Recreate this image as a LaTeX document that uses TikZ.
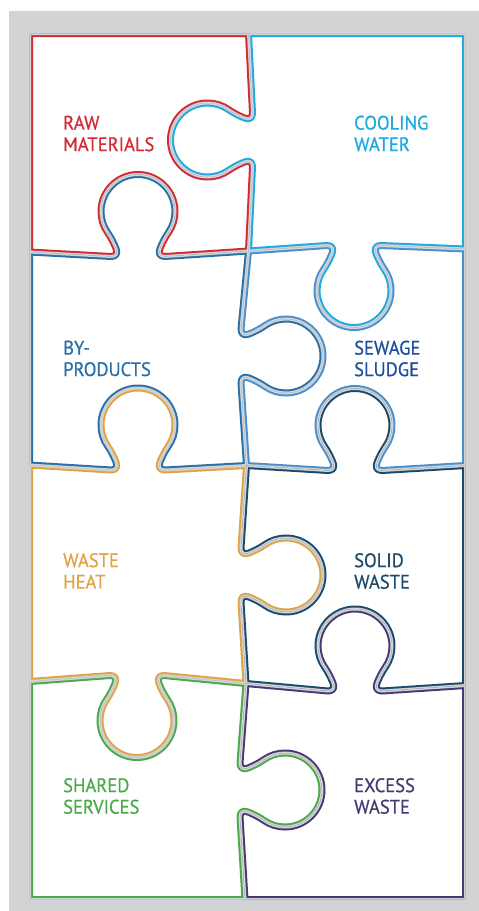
\documentclass[tikz,border=0pt]{standalone}
\usepackage{fontspec}
\newfontfamily\lab{PT Sans}[FakeStretch=0.95,FakeBold=0.6]
\definecolor{bg}{HTML}{D1D3D4}
\definecolor{cred}{HTML}{D42A34}
\definecolor{ccyan}{HTML}{1FA9E1}
\definecolor{cblue}{HTML}{2A6FA6}
\definecolor{csew}{HTML}{4A90D0}
\definecolor{csewt}{HTML}{1F4E9E}
\definecolor{corange}{HTML}{E0A448}
\definecolor{cnavy}{HTML}{1B4A6C}
\definecolor{cgreen}{HTML}{4DA84A}
\definecolor{cpurple}{HTML}{463A72}
% point of a knob: base (#1), edge dir (#2), out dir (#3), u=#4, v=#5
\newcommand\KP[5]{#1+(#4)*(#2)+(#5)*(#3)}
% knob: base centre (#1,#2), traversal direction (#3,#4), knob direction (#5,#6)
\newcommand\kn[6]{%
 -- ({\KP{#1}{#3}{#5}{-27}{0}},{\KP{#2}{#4}{#6}{-27}{0}})
 .. controls ({\KP{#1}{#3}{#5}{-22}{0}},{\KP{#2}{#4}{#6}{-22}{0}})
 and ({\KP{#1}{#3}{#5}{-20}{3}},{\KP{#2}{#4}{#6}{-20}{3}})
 .. ({\KP{#1}{#3}{#5}{-22}{8}},{\KP{#2}{#4}{#6}{-22}{8}})
 .. controls ({\KP{#1}{#3}{#5}{-23.5}{11.7}},{\KP{#2}{#4}{#6}{-23.5}{11.7}})
 and ({\KP{#1}{#3}{#5}{-26.3}{18.1}},{\KP{#2}{#4}{#6}{-26.3}{18.1}})
 .. ({\KP{#1}{#3}{#5}{-30.3}{23.8}},{\KP{#2}{#4}{#6}{-30.3}{23.8}})
 .. controls ({\KP{#1}{#3}{#5}{-34.7}{30}},{\KP{#2}{#4}{#6}{-34.7}{30}})
 and ({\KP{#1}{#3}{#5}{-37}{37.4}},{\KP{#2}{#4}{#6}{-37}{37.4}})
 .. ({\KP{#1}{#3}{#5}{-37}{45}},{\KP{#2}{#4}{#6}{-37}{45}})
 .. controls ({\KP{#1}{#3}{#5}{-37}{65.4}},{\KP{#2}{#4}{#6}{-37}{65.4}})
 and ({\KP{#1}{#3}{#5}{-20.4}{82}},{\KP{#2}{#4}{#6}{-20.4}{82}})
 .. ({\KP{#1}{#3}{#5}{0}{82}},{\KP{#2}{#4}{#6}{0}{82}})
 .. controls ({\KP{#1}{#3}{#5}{20.4}{82}},{\KP{#2}{#4}{#6}{20.4}{82}})
 and ({\KP{#1}{#3}{#5}{37}{65.4}},{\KP{#2}{#4}{#6}{37}{65.4}})
 .. ({\KP{#1}{#3}{#5}{37}{45}},{\KP{#2}{#4}{#6}{37}{45}})
 .. controls ({\KP{#1}{#3}{#5}{37}{37.4}},{\KP{#2}{#4}{#6}{37}{37.4}})
 and ({\KP{#1}{#3}{#5}{34.7}{30}},{\KP{#2}{#4}{#6}{34.7}{30}})
 .. ({\KP{#1}{#3}{#5}{30.3}{23.8}},{\KP{#2}{#4}{#6}{30.3}{23.8}})
 .. controls ({\KP{#1}{#3}{#5}{26.3}{18.1}},{\KP{#2}{#4}{#6}{26.3}{18.1}})
 and ({\KP{#1}{#3}{#5}{23.5}{11.7}},{\KP{#2}{#4}{#6}{23.5}{11.7}})
 .. ({\KP{#1}{#3}{#5}{22}{8}},{\KP{#2}{#4}{#6}{22}{8}})
 .. controls ({\KP{#1}{#3}{#5}{20}{3}},{\KP{#2}{#4}{#6}{20}{3}})
 and ({\KP{#1}{#3}{#5}{22}{0}},{\KP{#2}{#4}{#6}{22}{0}})
 .. ({\KP{#1}{#3}{#5}{27}{0}},{\KP{#2}{#4}{#6}{27}{0}})}
\def\pRed{(29.5,33.5) -- (248.5,33.5) \kn{252.5}{140}{0}{1}{-1}{0} -- (248.5,251) \kn{138}{256.5}{-1}{0}{0}{-1} -- (29.5,252) -- cycle}
\def\pCyan{(248.5,33.5) -- (465.5,33.5) -- (465.5,249) \kn{354}{245.5}{-1}{0}{0}{1} -- (248.5,251) \kn{252.5}{140}{0}{-1}{-1}{0} -- cycle}
\def\pBy{(29.5,252) \kn{138}{256.5}{1}{0}{0}{-1} -- (248.5,251) \kn{241}{356}{0}{1}{1}{0} -- (246.5,465.5) \kn{138}{470}{-1}{0}{0}{-1} -- (29.5,465) -- cycle}
\def\pSew{(248.5,251) \kn{354}{245.5}{1}{0}{0}{1} -- (465.5,249) -- (465.5,465.5) \kn{355}{470.5}{-1}{0}{0}{-1} -- (246.5,465.5) \kn{241}{356}{0}{-1}{1}{0} -- cycle}
\def\pHeat{(29.5,465) \kn{138}{470}{1}{0}{0}{-1} -- (246.5,465.5) \kn{241}{575}{0}{1}{1}{0} -- (246,683.5) \kn{137}{675.5}{-1}{0}{0}{1} -- (29.5,681.5) -- cycle}
\def\pSolid{(246.5,465.5) \kn{355}{470.5}{1}{0}{0}{-1} -- (465.5,465.5) -- (465.5,685.5) \kn{355}{691}{-1}{0}{0}{-1} -- (246,683.5) \kn{241}{575}{0}{-1}{1}{0} -- cycle}
\def\pShared{(29.5,681.5) \kn{137}{675.5}{1}{0}{0}{1} -- (246,683.5) \kn{240}{790}{0}{1}{1}{0} -- (245,899.5) -- (29.5,899.5) -- cycle}
\def\pExcess{(246,683.5) \kn{355}{691}{1}{0}{0}{-1} -- (465.5,685.5) -- (465.5,899.5) -- (245,899.5) \kn{240}{790}{0}{-1}{1}{0} -- cycle}
\newcommand\piece[2]{\begin{scope}
 \clip #1;
 \fill[white] #1;
 \draw[#2, line width=7pt, line join=round] #1;
 \draw[bg, line width=3pt, line join=round] #1;
\end{scope}}
\tikzset{lbl/.style={anchor=north west, inner sep=0pt, align=left,
  font={\lab\fontsize{19.5}{21.5}\selectfont}}}
\begin{document}
\begin{tikzpicture}[x=1pt,y=-1pt]
\useasboundingbox (0,0) rectangle (479,911);
\fill[bg] (9,11) rectangle (479,911);
\piece{\pRed}{cred}
\piece{\pCyan}{ccyan}
\piece{\pBy}{cblue}
\piece{\pSew}{csew}
\piece{\pHeat}{corange}
\piece{\pSolid}{cnavy}
\piece{\pShared}{cgreen}
\piece{\pExcess}{cpurple}
\node[lbl, text=cred] (raw) at (63,115.5) {RAW\\MATERIALS};
\node[lbl, text=ccyan] (cool) at (354,115.5) {COOLING\\WATER};
\node[lbl, text=cblue] (byp) at (63,340.5) {BY-\\PRODUCTS};
\node[lbl, text=csewt] (sew) at (354,340.5) {SEWAGE\\SLUDGE};
\node[lbl, text=corange] (heat) at (63,553) {WASTE\\HEAT};
\node[lbl, text=cnavy] (solid) at (354,553) {SOLID\\WASTE};
\node[lbl, text=cgreen] (shared) at (63,778) {SHARED\\SERVICES};
\node[lbl, text=cpurple] (excess) at (354,778) {EXCESS\\WASTE};
\end{tikzpicture}
\end{document}
